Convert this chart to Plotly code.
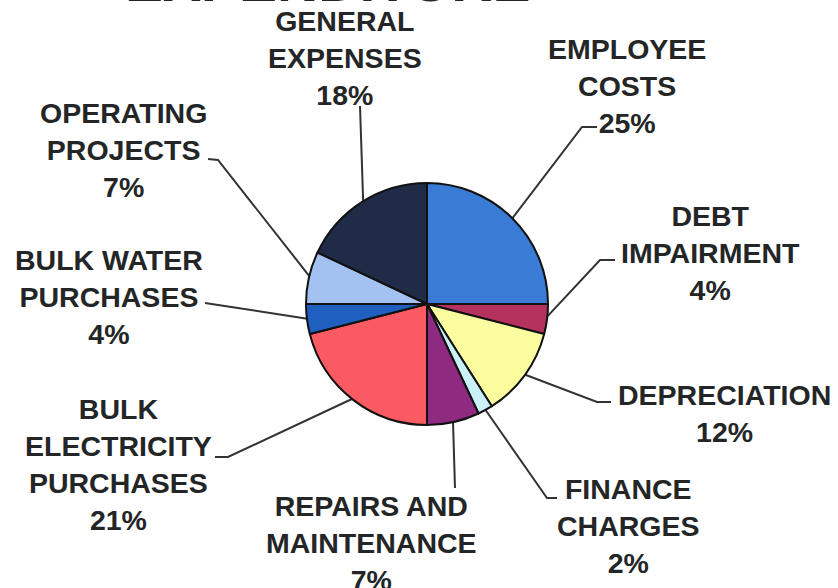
import math
import plotly.graph_objects as go

# ---- data ----
categories = ["EMPLOYEE<br>COSTS", "DEBT<br>IMPAIRMENT", "DEPRECIATION", "FINANCE<br>CHARGES",
              "REPAIRS AND<br>MAINTENANCE", "BULK<br>ELECTRICITY<br>PURCHASES",
              "BULK WATER<br>PURCHASES", "OPERATING<br>PROJECTS", "GENERAL<br>EXPENSES"]
values = [25, 4, 12, 2, 7, 21, 4, 7, 18]
title_text = "EXPENDITURE"

# ---- styles / layout ----
colors = ["#3a7bd5", "#b5325f", "#fbfd9f", "#c9f1f7", "#8e2b80",
          "#fa5a62", "#1e5fc0", "#a3c2f2", "#1f2b47"]
W, H = 838, 588
CX, CY, R = 427, 304, 121
label_pos = [(627, 86), (710, 253), (724, 413), (628, 526), (371, 543),
             (118, 464), (109, 297), (123, 150), (345, 58)]
leader_pts = [
    [(582, 127), (597, 127)],
    [(600, 260), (615, 260)],
    [(597, 402), (611, 402)],
    [(547, 498), (557, 498)],
    [(455, 488)],
    [(228, 457), (215, 457)],
    [(205, 303)],
    [(218, 160), (208, 159)],
    [(360, 106)],
]
FONT = "Liberation Sans, Arial, sans-serif"
TXT = "#232526"

fig = go.Figure()

# leader lines (start point on pie edge computed from data)
total = sum(values)
cum = 0
for v, pts in zip(values, leader_pts):
    mid = (cum + v / 2) / total * 2 * math.pi
    cum += v
    sx = CX + (R - 2) * math.sin(mid)
    sy = CY - (R - 2) * math.cos(mid)
    xs = [sx] + [p[0] for p in pts]
    ys = [sy] + [p[1] for p in pts]
    fig.add_trace(go.Scatter(x=xs, y=ys, mode="lines", line=dict(color="#333333", width=2),
                             hoverinfo="skip", showlegend=False))

fig.add_trace(go.Pie(
    values=values, labels=categories, sort=False, direction="clockwise", rotation=0,
    marker=dict(colors=colors, line=dict(color="#111111", width=2)),
    textinfo="none", showlegend=False,
    domain=dict(x=[(CX - R) / W, (CX + R) / W], y=[(H - CY - R) / H, (H - CY + R) / H]),
))

for cat, v, (lx, ly) in zip(categories, values, label_pos):
    fig.add_annotation(x=lx, y=ly, xref="x", yref="y", text=f"<b>{cat}<br>{v}%</b>",
                       showarrow=False, xanchor="center", yanchor="middle", align="center",
                       font=dict(family=FONT, size=28.5, color=TXT))

fig.add_annotation(x=327 / W, y=1 + 19 / H, xref="paper", yref="paper", text=f"<b>{title_text}</b>",
                   showarrow=False, xanchor="center", yanchor="middle",
                   font=dict(family=FONT, size=57, color=TXT))

fig.update_layout(
    width=W, height=H, margin=dict(l=0, r=0, t=0, b=0),
    paper_bgcolor="white", plot_bgcolor="white",
    xaxis=dict(range=[0, W], visible=False, fixedrange=True),
    yaxis=dict(range=[H, 0], visible=False, fixedrange=True),
)

fig.write_html("out.html")
